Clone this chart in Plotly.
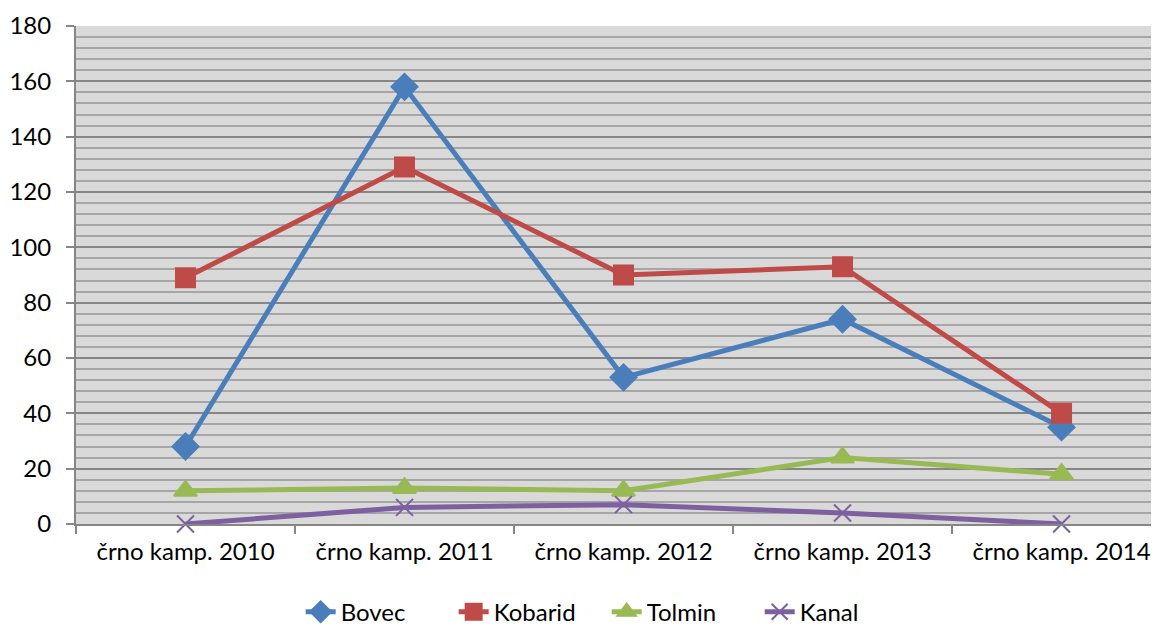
import plotly.graph_objects as go

categories = ["črno kamp. 2010", "črno kamp. 2011", "črno kamp. 2012", "črno kamp. 2013", "črno kamp. 2014"]
bovec = [28, 158, 53, 74, 35]
kobarid = [89, 129, 90, 93, 40]
tolmin = [12, 13, 12, 24, 18]
kanal = [0, 6, 7, 4, 0]

series = [
    ("Bovec", bovec, "#4A7EBB", "diamond", 20),
    ("Kobarid", kobarid, "#BE4B48", "square", 19),
    ("Tolmin", tolmin, "#98B954", "triangle-up", 20),
    ("Kanal", kanal, "#7D60A0", "x-thin-open", 17),
]

fig = go.Figure()
for name, vals, color, sym, size in series:
    fig.add_trace(go.Scatter(
        x=categories, y=vals, name=name, mode="lines+markers",
        line=dict(color=color, width=5), cliponaxis=False,
        marker=dict(symbol=sym, size=size, color=color,
                    line=dict(color=color, width=2)),
    ))

# page body has an 8px margin, so the figure is sized/offset to compensate
fig.update_layout(
    width=1151, height=618,
    margin=dict(l=68, r=0, t=18, b=102, autoexpand=False),
    paper_bgcolor="white", plot_bgcolor="#D9D9D9",
    font=dict(family="Lato, Open Sans, sans-serif", size=24, color="black"),
    showlegend=True,
    legend=dict(orientation="h", x=0.49, xanchor="center", y=-0.177, yanchor="middle",
                font=dict(size=24), tracegroupgap=0, entrywidth=108, entrywidthmode="pixels"),
)
fig.update_xaxes(
    type="category", range=[-0.5, 4.445], automargin=False,
    showline=True, linecolor="#868686", linewidth=2,
    ticks="outside", tickson="boundaries", ticklen=8, tickcolor="#868686", tickwidth=2,
    showgrid=False, tickfont=dict(size=24), ticklabelstandoff=5,
)
fig.update_yaxes(
    range=[0, 180], dtick=20, tick0=0, automargin=False,
    showline=True, linecolor="#868686", linewidth=2,
    ticks="outside", ticklen=8, tickcolor="#868686", tickwidth=2,
    showgrid=True, gridcolor="#868686", gridwidth=2,
    zeroline=False,
    minor=dict(dtick=4, showgrid=True, gridcolor="#A6A6A6", gridwidth=2),
    tickfont=dict(size=24), ticklabelstandoff=10,
)

fig.write_html("out.html")
